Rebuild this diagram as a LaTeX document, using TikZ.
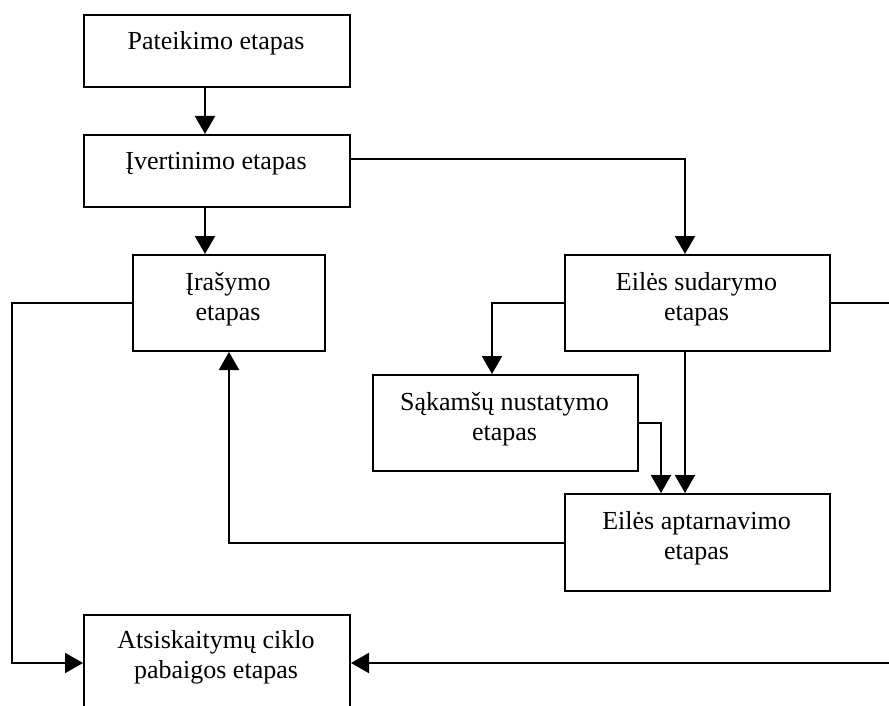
\documentclass[tikz,border=0pt]{standalone}
\usepackage{fontspec}
\setmainfont{Liberation Serif}
\usetikzlibrary{arrows.meta}
\begin{document}
\begin{tikzpicture}[x=1pt,y=-1pt,
  stagebox/.style={draw, line width=2pt, inner sep=0pt, anchor=north west},
  wide/.style={minimum width=266pt},
  lbl/.style={font=\fontsize{26}{30}\selectfont, align=center, inner sep=0pt, anchor=base},
  link/.style={line width=2pt},
  arr/.style={link, -{Triangle[length=18pt,width=20pt]}}]
\useasboundingbox (0,0) rectangle (889,706);
\clip (0,0) rectangle (889,706);

% stage boxes
\node[stagebox, wide, minimum height=72pt] (p) at (83,14) {};
\node[stagebox, wide, minimum height=72pt] (v) at (83,134) {};
\node[stagebox, minimum width=192pt, minimum height=96pt] (r) at (132,254) {};
\node[stagebox, minimum width=265pt, minimum height=96pt] (s) at (564,254) {};
\node[stagebox, minimum width=265pt, minimum height=96pt] (k) at (372,374) {};
\node[stagebox, minimum width=265pt, minimum height=97pt] (a) at (564,493) {};
\node[stagebox, wide, minimum height=96pt] (c) at (83,614) {};

% labels (base anchor = baseline of the last line)
\node[lbl] (pt) at (216,50) {Pateikimo etapas};
\node[lbl] (vt) at (216,170) {Įvertinimo etapas};
\node[lbl] (rt) at (228,320) {Įrašymo\\etapas};
\node[lbl] (st) at (696.5,320) {Eilės sudarymo\\etapas};
\node[lbl] (kt) at (504.5,440) {Sąkamšų nustatymo\\etapas};
\node[lbl] (at) at (696.5,559) {Eilės aptarnavimo\\etapas};
\node[lbl] (ct) at (216,678) {Atsiskaitymų ciklo\\pabaigos etapas};

% rails along the picture edges
\coordinate (leftrail) at (12,0);
\coordinate (rightrail) at (890,0);

% connectors
\draw[arr] ([xshift=-12pt]p.south) -- ([xshift=-12pt]v.north);
\draw[arr] ([xshift=-12pt]v.south) -- ([xshift=-24pt]r.north);
\draw[arr] ([yshift=12pt]v.east) -| ([xshift=-12.5pt]s.north);
\draw[arr] (s.west) -| ([xshift=-13.5pt]k.north);
\draw[arr] ([xshift=-12.5pt]s.south) -- ([xshift=-12.5pt]a.north);
\draw[arr] (k.east) -| ([xshift=-36.5pt]a.north);
\draw[arr] (a.west) -| (r.south);
\draw[arr] (r.west) -| (leftrail |- c.west) -- (c.west);
\draw[arr] (s.east) -| (rightrail |- c.east) -- (c.east);
\end{tikzpicture}
\end{document}
